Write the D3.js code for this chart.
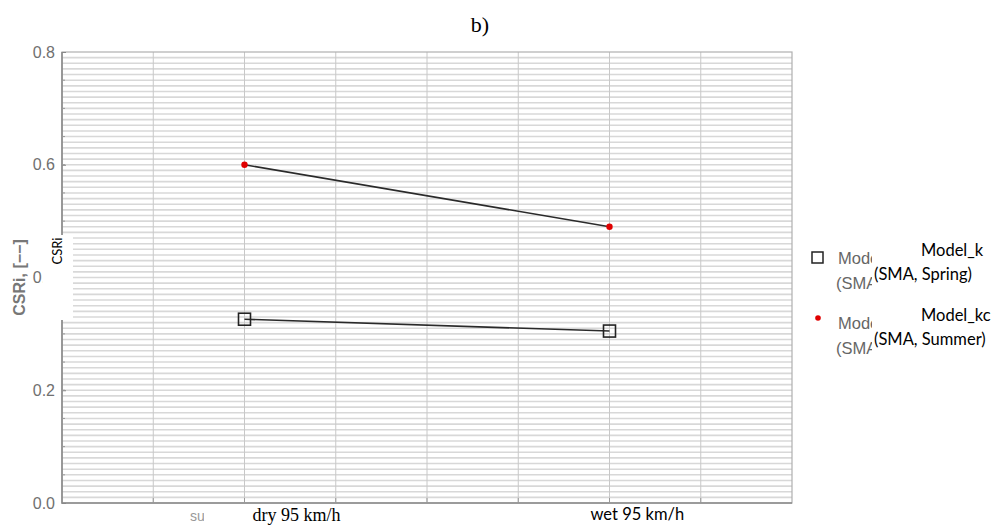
<!DOCTYPE html>
<html>
<head>
<meta charset="utf-8">
<script src="https://cdn.jsdelivr.net/npm/d3@7"></script>
<style>
  body { margin: 0; background: #fff; }
  svg { display: block; }
</style>
</head>
<body>
<div id="chart"></div>
<script>
// categories on the x axis and where they sit on the grid (grid runs 0..8)
var categories = ["dry 95 km/h", "wet 95 km/h"];
var catPos = [2, 6];
// series values
var seriesNames = ["Model_k", "Model_kc"];
var seriesSub = ["(SMA, Spring)", "(SMA, Summer)"];
var springVals = [0.326, 0.305];
var summerVals = [0.600, 0.490];
var yTicks = [0.0, 0.2, 0.4, 0.6, 0.8];

function drawChart() {
	var width = 996, height = 527;
	var mLeft = 62, mRight = 792, mTop = 52, mBottom = 503;

	var svg = d3.select("#chart").append("svg")
		.attr("width", width)
		.attr("height", height);

	var x = d3.scaleLinear().domain([0, 8]).range([mLeft, mRight]);
	var y = d3.scaleLinear().domain([0, 0.8]).range([mBottom, mTop]);

	// fine horizontal grid every 0.01
	svg.append("g").selectAll("line")
		.data(d3.range(1, 80).map(function (i) { return i / 100; }))
		.enter().append("line")
		.attr("x1", mLeft).attr("x2", mRight)
		.attr("y1", function (d) { return y(d); })
		.attr("y2", function (d) { return y(d); })
		.style("stroke", "#d8d8d8")
		.style("stroke-width", 1.6);

	// vertical grid
	svg.append("g").selectAll("line")
		.data(d3.range(1, 8))
		.enter().append("line")
		.attr("x1", function (d) { return x(d); })
		.attr("x2", function (d) { return x(d); })
		.attr("y1", mTop).attr("y2", mBottom)
		.style("stroke", "#c8c8c8")
		.style("stroke-width", 1);

	// frame
	svg.append("rect")
		.attr("x", mLeft).attr("y", mTop)
		.attr("width", mRight - mLeft).attr("height", mBottom - mTop)
		.style("fill", "none")
		.style("stroke", "#b0b0b0")
		.style("stroke-width", 1.2);
	svg.append("path")
		.attr("d", "M" + mLeft + "," + mTop + "V" + mBottom + "H" + mRight)
		.style("fill", "none")
		.style("stroke", "#8a8a8a")
		.style("stroke-width", 1.6);

	// y axis
	var yAxis = d3.axisLeft(y).tickValues(yTicks).tickFormat(d3.format(".1f")).tickSize(4).tickPadding(3);
	var ya = svg.append("g").attr("transform", "translate(" + mLeft + ",0)").call(yAxis);
	ya.select(".domain").remove();
	ya.selectAll("line").attr("x2", 4).style("stroke", "#888");
	ya.selectAll("text")
		.style("font-family", "Liberation Sans, Arial, sans-serif")
		.style("font-size", "16px")
		.style("fill", "#707070");

	// minor ticks on the left axis
	svg.append("g").selectAll("line")
		.data(d3.range(1, 16).map(function (i) { return i * 0.05; }))
		.enter().append("line")
		.attr("x1", mLeft).attr("x2", mLeft + 3)
		.attr("y1", function (d) { return y(d); })
		.attr("y2", function (d) { return y(d); })
		.style("stroke", "#999");

	// bottom ticks
	svg.append("g").selectAll("line")
		.data(d3.range(1, 8))
		.enter().append("line")
		.attr("x1", function (d) { return x(d); })
		.attr("x2", function (d) { return x(d); })
		.attr("y1", mBottom).attr("y2", mBottom - 5)
		.style("stroke", "#999");

	// original grey axis title
	svg.append("text")
		.attr("transform", "translate(25," + y(0.4) + ") rotate(-90)")
		.attr("text-anchor", "middle")
		.style("font-family", "Liberation Sans, Arial, sans-serif")
		.style("font-size", "16px")
		.style("font-weight", "bold")
		.style("fill", "#777")
		.text("CSRi, [\u2212\u2212]");

	// original grey category label, mostly covered
	svg.append("text")
		.attr("x", 190).attr("y", 521)
		.style("font-family", "Liberation Sans, Arial, sans-serif")
		.style("font-size", "14px")
		.style("fill", "#999")
		.text("summer");

	// lines and markers
	var line = d3.line()
		.x(function (d, i) { return x(catPos[i]); })
		.y(function (d) { return y(d); });

	[springVals, summerVals].forEach(function (vals) {
		svg.append("path")
			.datum(vals)
			.attr("d", line)
			.style("fill", "none")
			.style("stroke", "#2a2a2a")
			.style("stroke-width", 1.6);
	});

	svg.append("g").selectAll("rect")
		.data(springVals)
		.enter().append("rect")
		.attr("x", function (d, i) { return x(catPos[i]) - 6; })
		.attr("y", function (d) { return y(d) - 6; })
		.attr("width", 12).attr("height", 12)
		.style("fill", "none")
		.style("stroke", "#222")
		.style("stroke-width", 1.6);

	svg.append("g").selectAll("circle")
		.data(summerVals)
		.enter().append("circle")
		.attr("cx", function (d, i) { return x(catPos[i]); })
		.attr("cy", function (d) { return y(d); })
		.attr("r", 3.2)
		.style("fill", "#e00000");

	// original grey legend
	var lg = svg.append("g");
	lg.append("rect")
		.attr("x", 812).attr("y", 252).attr("width", 11).attr("height", 11)
		.style("fill", "none").style("stroke", "#222").style("stroke-width", 1.5);
	lg.append("circle")
		.attr("cx", 818).attr("cy", 318).attr("r", 2.8)
		.style("fill", "#e00000");
	var legY = [264, 329];
	seriesNames.forEach(function (n, i) {
		lg.append("text")
			.attr("x", 838).attr("y", legY[i])
			.style("font-family", "Liberation Sans, Arial, sans-serif")
			.style("font-size", "16.5px").style("fill", "#666")
			.text(n);
		lg.append("text")
			.attr("x", 836).attr("y", legY[i] + 25)
			.style("font-family", "Liberation Sans, Arial, sans-serif")
			.style("font-size", "16.5px").style("fill", "#666")
			.text("(SMA, " + (i == 0 ? "Spring" : "Summer") + ")");
	});

	// pasted white patches with the replacement text
	var patch = "Lato, 'Open Sans', sans-serif";
	svg.append("rect").attr("x", 43).attr("y", 235).attr("width", 30).attr("height", 85).style("fill", "#fff");
	svg.append("text")
		.attr("transform", "translate(62,251) rotate(-90)")
		.attr("text-anchor", "middle")
		.style("font-family", patch)
		.style("font-size", "13px")
		.style("fill", "#000")
		.text("CSRi");

	svg.append("rect").attr("x", 204).attr("y", 506).attr("width", 160).attr("height", 21).style("fill", "#fff");
	svg.append("text")
		.attr("x", x(catPos[0]) + 8).attr("y", 521)
		.style("font-family", "Liberation Serif, serif")
		.style("font-size", "18px")
		.text(categories[0]);
	svg.append("text")
		.attr("x", x(catPos[1]) - 19).attr("y", 520)
		.style("font-family", patch)
		.style("font-size", "16.5px")
		.text(categories[1]);

	svg.append("rect").attr("x", 872).attr("y", 236).attr("width", 124).attr("height", 130).style("fill", "#fff");
	seriesNames.forEach(function (n, i) {
		svg.append("text")
			.attr("x", 921).attr("y", legY[i] - 8)
			.style("font-family", patch)
			.style("font-size", "16.5px")
			.text(n);
		svg.append("text")
			.attr("x", 874).attr("y", legY[i] + 16)
			.style("font-family", patch)
			.style("font-size", "16.5px")
			.text(seriesSub[i]);
	});

	// panel title
	svg.append("text")
		.attr("x", 480).attr("y", 32)
		.attr("text-anchor", "middle")
		.style("font-family", "Liberation Serif, serif")
		.style("font-size", "22px")
		.text("b)");
}

drawChart();
</script>
</body>
</html>
